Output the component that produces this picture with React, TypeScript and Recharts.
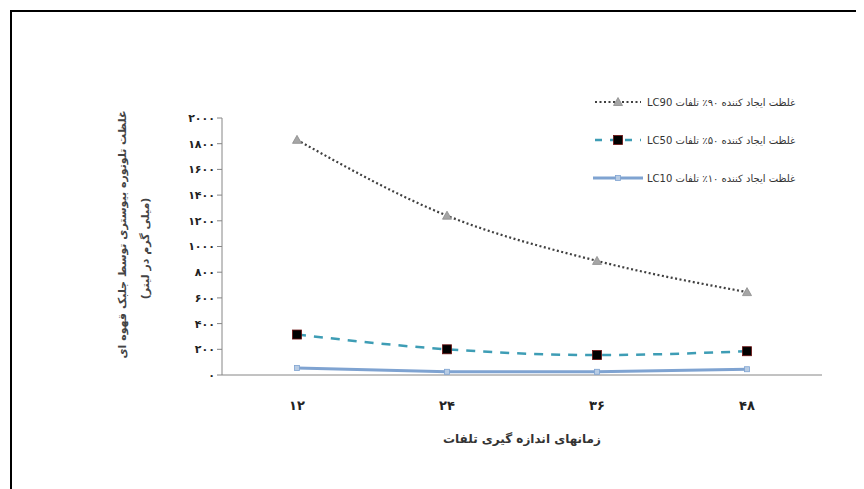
import React from "react";
import { LineChart, Line, XAxis, YAxis, Legend } from "recharts";

const hours = [12, 24, 36, 48];
const lc90 = [1830, 1240, 888, 645];
const lc50 = [315, 200, 155, 185];
const lc10 = [55, 25, 25, 45];
const yTicks = [0, 200, 400, 600, 800, 1000, 1200, 1400, 1600, 1800, 2000];
const xTicks = [12, 24, 36, 48];
const boundaryTicks = [6, 18, 30, 42, 54];
const seriesNames = ["LC90", "LC50", "LC10"];
const legendTexts = [
  "LC90 غلظت ایجاد کننده ۹۰٪ تلفات",
  "LC50 غلظت ایجاد کننده ۵۰٪ تلفات",
  "LC10 غلظت ایجاد کننده ۱۰٪ تلفات",
];
const yLabel1 = "غلظت تلوتوره بیوستری توسط جلبک قهوه ای";
const yLabel2 = "(میلی گرم در لیتر)";
const xLabel = "زمانهای اندازه گیری تلفات";

const data = hours.map((h, i) => ({ h, LC90: lc90[i], LC50: lc50[i], LC10: lc10[i] }));

const FA = "۰۱۲۳۴۵۶۷۸۹";
const toFa = (n: number | string) => String(n).replace(/\d/g, (d) => FA[Number(d)]);

const FONT = "'DejaVu Sans', sans-serif";

const Triangle = (props: any) => {
  const { cx, cy } = props;
  if (cx == null || cy == null) return null;
  return <path d={`M${cx},${cy - 4.5} L${cx + 4.5},${cy + 3.5} L${cx - 4.5},${cy + 3.5} Z`} fill="#A6A6A6" stroke="#8C8C8C" strokeWidth={0.8} />;
};
const Square = (props: any) => {
  const { cx, cy } = props;
  if (cx == null || cy == null) return null;
  return <rect x={cx - 4.5} y={cy - 4.5} width={9} height={9} fill="#000" stroke="#6B1010" strokeWidth={0.8} />;
};
const SmallMark = (props: any) => {
  const { cx, cy } = props;
  if (cx == null || cy == null) return null;
  return <rect x={cx - 2.5} y={cy - 2.5} width={5} height={5} fill="#B8CCE4" stroke="#7FA3D1" strokeWidth={0.8} />;
};

const LegendContent = () => {
  const samples = [
    (
      <svg width={50} height={14}>
        <line x1={2} y1={7} x2={48} y2={7} stroke="#404040" strokeWidth={2.2} strokeDasharray="2 2.5" />
        <Triangle cx={25} cy={7} />
      </svg>
    ),
    (
      <svg width={50} height={14}>
        <line x1={2} y1={7} x2={48} y2={7} stroke="#3E9DB5" strokeWidth={2.5} strokeDasharray="7 8" />
        <Square cx={25} cy={7} />
      </svg>
    ),
    (
      <svg width={50} height={14}>
        <line x1={0} y1={7} x2={50} y2={7} stroke="#7FA3D1" strokeWidth={3} />
        <SmallMark cx={25} cy={7} />
      </svg>
    ),
  ];
  return (
    <div style={{ fontFamily: FONT }}>
      {seriesNames.map((n, i) => (
        <div key={n} style={{ display: "flex", alignItems: "center", height: 38 }}>
          {samples[i]}
          <span style={{ fontSize: 10, color: "#333", marginLeft: 4, whiteSpace: "nowrap", direction: "ltr" }}>{legendTexts[i]}</span>
        </div>
      ))}
    </div>
  );
};

const YLabel = (props: any) => {
  const { viewBox } = props;
  const { x, y, height } = viewBox;
  const cx1 = x - 40;
  const cx2 = x - 17;
  const cy1 = y + height / 2 - 12;
  const cy2 = y + height / 2 + 2;
  return (
    <g>
      <text x={cx1} y={cy1} transform={`rotate(-90 ${cx1} ${cy1})`} textAnchor="middle" dominantBaseline="central" fontSize={11} fill="#444" fontFamily={FONT} fontWeight="bold">
        {yLabel1}
      </text>
      <text x={cx2} y={cy2} transform={`rotate(-90 ${cx2} ${cy2})`} textAnchor="middle" dominantBaseline="central" fontSize={11} fill="#444" fontFamily={FONT} fontWeight="bold">
        {yLabel2}
      </text>
    </g>
  );
};

const Empty = () => <g />;

export default function App() {
  return (
    <div style={{ position: "relative", margin: "2px 0 0 2px", width: 848, height: 500, border: "2px solid #000", boxSizing: "border-box", background: "#fff" }}>
      <LineChart width={844} height={478} data={data} margin={{ top: 106, right: 34, bottom: 45, left: 150 }}>
        <XAxis
          xAxisId="b"
          dataKey="h"
          type="number"
          domain={[6, 54]}
          ticks={boundaryTicks}
          tick={<Empty />}
          tickLine={{ stroke: "#868686" }}
          tickSize={5}
          axisLine={false}
          height={0}
        />
        <XAxis
          xAxisId="m"
          dataKey="h"
          type="number"
          domain={[6, 54]}
          ticks={xTicks}
          tickFormatter={toFa}
          tickLine={false}
          axisLine={{ stroke: "#868686", strokeWidth: 1 }}
          tick={{ fontSize: 13, fontWeight: "bold", fill: "#222", fontFamily: FONT, dy: 18 }}
          height={70}
          label={{ value: xLabel, position: "insideBottom", offset: 2, fontSize: 12, fontWeight: "bold", fill: "#333", fontFamily: FONT }}
        />
        <YAxis
          type="number"
          domain={[0, 2000]}
          ticks={yTicks}
          tickFormatter={toFa}
          width={60}
          interval={0}
          tickSize={5}
          tickLine={{ stroke: "#868686" }}
          axisLine={{ stroke: "#868686", strokeWidth: 1 }}
          tick={{ fontSize: 11, fontWeight: "bold", fill: "#222", fontFamily: FONT }}
          label={<YLabel />}
        />
        <Legend
          layout="vertical"
          verticalAlign="middle"
          align="center"
          content={<LegendContent />}
          wrapperStyle={{ position: "absolute", left: 581, top: 71, width: 230 }}
        />
        <Line xAxisId="m" type="monotone" dataKey="LC90" stroke="#404040" strokeWidth={2.2} strokeDasharray="2 2.5" dot={<Triangle />} isAnimationActive={false} />
        <Line xAxisId="m" type="monotone" dataKey="LC50" stroke="#3E9DB5" strokeWidth={2.5} strokeDasharray="9 8" dot={<Square />} isAnimationActive={false} />
        <Line xAxisId="m" type="linear" dataKey="LC10" stroke="#7FA3D1" strokeWidth={3} dot={<SmallMark />} isAnimationActive={false} />
      </LineChart>
    </div>
  );
}
